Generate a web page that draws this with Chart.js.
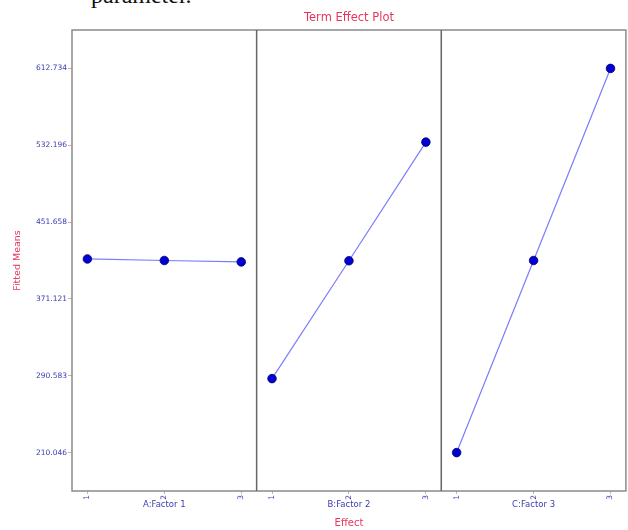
<!DOCTYPE html>
<html>
<head>
<meta charset="utf-8">
<script src="https://cdn.jsdelivr.net/npm/chart.js@4/dist/chart.umd.min.js"></script>
<style>
  html, body { margin: 0; padding: 0; background: #fff; }
  #wrap { position: relative; width: 628px; height: 530px; overflow: hidden; }
  #lead { position: absolute; left: 91px; top: -18px; font: 24px "Liberation Serif", serif; color: #111; white-space: nowrap; }
  canvas { position: absolute; left: 0; top: 0; }
</style>
</head>
<body>
<div id="wrap">
  <div id="lead">parameter.</div>
  <canvas id="c" width="631" height="530"></canvas>
</div>
<script>
// Factor levels and fitted means per factor
const levels = ["1", "2", "3"];
const factorNames = ["A:Factor 1", "B:Factor 2", "C:Factor 3"];
const factorA = [413.0, 411.4, 409.9];
const factorB = [287.6, 411.1, 535.5];
const factorC = [210.046, 411.4, 612.734];
const yTickValues = [210.046, 290.583, 371.121, 451.658, 532.196, 612.734];

// Each factor gets its own panel along one shared linear x axis
const PANEL = 2.4;     // panel width in level units
const INSET = 0.2;     // gap between panel edge and level 1
const series = [factorA, factorB, factorC];
const levelPos = (p, i) => p * PANEL + INSET + i;

const datasets = series.map((vals, p) => ({
  label: factorNames[p],
  data: vals.map((v, i) => ({ x: levelPos(p, i), y: v })),
  borderColor: "#7b7bff",
  borderWidth: 1.2,
  pointBackgroundColor: "#0000d4",
  pointBorderColor: "#00006a",
  pointBorderWidth: 0.8,
  pointRadius: 4.3,
  tension: 0
}));

const xTickValues = [];
series.forEach((_, p) => levels.forEach((_, i) => xTickValues.push(levelPos(p, i))));

const RED = "#e8355f";
const BLUE = "#3b3bb3";

const panelPlugin = {
  id: "panels",
  afterDraw(chart) {
    const { ctx, chartArea: a, scales } = chart;
    const xs = scales.x;
    ctx.save();
    // outer frame
    ctx.strokeStyle = "#8a8a8a";
    ctx.lineWidth = 1.5;
    ctx.strokeRect(a.left, a.top, a.right - a.left, a.bottom - a.top);
    // dividers between factor panels
    ctx.strokeStyle = "#666";
    for (let p = 1; p < series.length; p++) {
      const px = xs.getPixelForValue(p * PANEL);
      ctx.beginPath();
      ctx.moveTo(px, a.top);
      ctx.lineTo(px, a.bottom);
      ctx.stroke();
    }
    // factor names under each panel
    ctx.fillStyle = BLUE;
    ctx.font = '8.5px "DejaVu Sans", sans-serif';
    ctx.textAlign = "center";
    ctx.textBaseline = "middle";
    factorNames.forEach((name, p) => {
      ctx.fillText(name, xs.getPixelForValue(p * PANEL + PANEL / 2), 505);
    });
    // titles
    const cx = (a.left + a.right) / 2;
    ctx.fillStyle = RED;
    ctx.font = '11.5px "DejaVu Sans", sans-serif';
    ctx.fillText("Term Effect Plot", cx, 18);
    ctx.font = '10px "DejaVu Sans", sans-serif';
    ctx.fillText("Effect", cx, 523);
    ctx.translate(18, (a.top + a.bottom) / 2);
    ctx.rotate(-Math.PI / 2);
    ctx.font = '9.5px "DejaVu Sans", sans-serif';
    ctx.fillText("Fitted Means", 0, 0);
    ctx.restore();
  }
};

new Chart(document.getElementById("c"), {
  type: "line",
  data: { datasets },
  options: {
    responsive: false,
    animation: false,
    layout: { padding: { top: 30, right: 2, left: 0, bottom: 0 } },
    plugins: { legend: { display: false }, title: { display: false }, tooltip: { enabled: false } },
    scales: {
      x: {
        type: "linear",
        min: 0,
        max: PANEL * series.length,
        afterBuildTicks(s) { s.ticks = xTickValues.map(v => ({ value: v })); },
        afterFit(s) { s.height = 39; },
        ticks: {
          autoSkip: false,
          minRotation: 90,
          maxRotation: 90,
          padding: 1,
          color: BLUE,
          font: { family: "DejaVu Sans", size: 7.5 },
          callback: (v, i) => levels[i % levels.length]
        },
        grid: { drawOnChartArea: false, drawTicks: true, tickLength: 3, color: "#f2a0a8" },
        border: { display: false }
      },
      y: {
        type: "linear",
        min: 169.78,
        max: 653.0,
        afterBuildTicks(s) { s.ticks = yTickValues.map(v => ({ value: v })); },
        afterFit(s) { s.width = 72; },
        ticks: {
          autoSkip: false,
          padding: 1,
          color: BLUE,
          font: { family: "DejaVu Sans", size: 7.5 },
          callback: v => Number(v).toFixed(3)
        },
        grid: { drawOnChartArea: false, drawTicks: true, tickLength: 4, color: "#f2a0a8" },
        border: { display: false }
      }
    }
  },
  plugins: [panelPlugin]
});
</script>
</body>
</html>
